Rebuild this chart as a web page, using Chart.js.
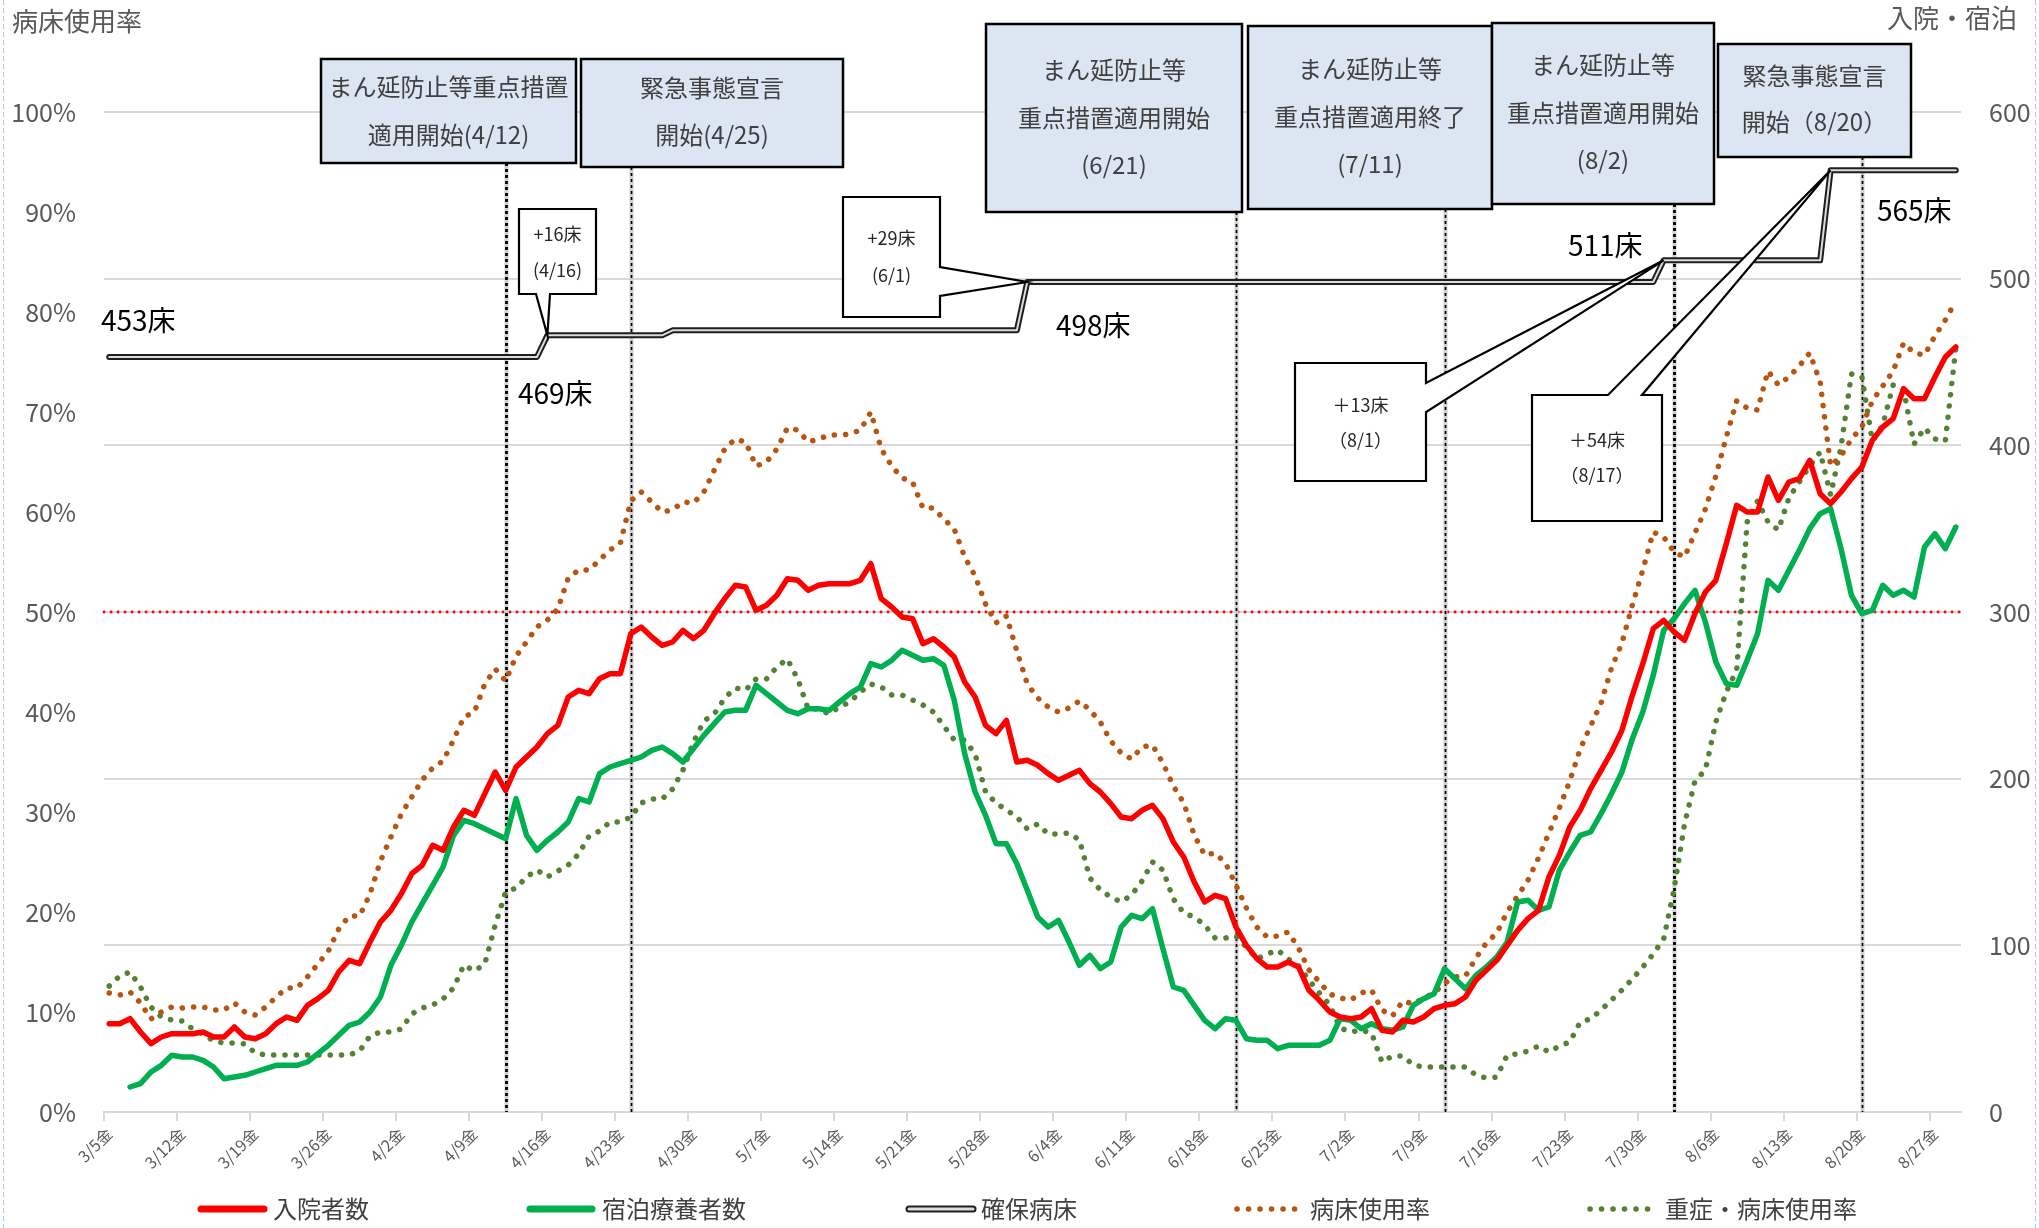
<!DOCTYPE html>
<html><head><meta charset="utf-8">
<script src="https://cdn.jsdelivr.net/npm/chart.js@4/dist/chart.umd.min.js"></script>
<style>html,body{margin:0;padding:0;background:#fff;}#wrap{position:relative;width:2039px;height:1228px;}canvas{display:block;}</style>
</head><body><div id="wrap"><canvas id="c" width="2039" height="1228"></canvas></div>
<script>
// ---------- DATA ----------
const startDate = [2021, 3, 5];   // first category (3/5 金)
const dayCount = 178;             // 3/5 .. 8/29
const weekdayChars = ['日','月','火','水','木','金','土'];

// 入院者数 (right axis, persons)
const hospitalized = [
 53,53,56,48,41,45,47,47,47,48, 45,45,51,45,44,47,53,57,55,64,
 68,73,84,91,89,102,114,121,131,143, 148,160,157,171,181,178,191,204,193,207,
 213,219,227,232,249,253,251,260,263,263, 287,291,285,280,282,289,284,289,299,308,
 316,315,301,304,310,320,319,313,316,317, 317,317,319,329,308,303,297,296,281,284,
 279,273,258,249,232,227,235,210,211,208, 203,199,202,205,197,192,185,177,176,181,
 184,176,162,153,138,126,130,128,111,100, 92,87,87,90,87,73,67,60,57,56,
 57,62,49,48,55,54,57,62,64,65, 69,79,85,91,100,109,116,121,141,154,
 171,181,194,205,216,229,250,269,290,295, 288,283,299,312,319,341,364,360,360,381,
 367,378,380,391,371,365,372,380,387,403, 411,416,434,428,428,441,453,459];

// 宿泊療養者数 (right axis, persons)
const hotelCare = [
 null,null,15,17,24,28,34,33,33,31, 27,20,21,22,24,26,28,28,28,30,
 35,40,46,52,54,60,69,88,100,114, 125,136,147,166,175,173,170,167,164,188,
 166,157,163,168,174,188,186,203,207,209, 211,213,217,219,215,210,218,226,233,240,
 241,241,256,251,246,241,239,242,242,241, 246,251,255,269,267,271,277,274,271,272,
 268,247,215,192,178,161,161,149,133,117, 111,115,102,88,94,86,90,111,118,116,
 122,98,75,73,64,55,50,56,55,44, 43,43,38,40,40,40,40,43,56,55,
 50,53,50,49,51,64,68,71,86,80, 74,82,87,93,102,126,127,121,123,145,
 156,166,168,179,191,204,224,240,262,289, 296,305,313,294,270,257,256,271,287,319,
 313,325,337,350,359,362,338,310,299,301, 316,310,313,309,339,347,338,351];

// 確保病床 (right axis, beds)
const securedBeds = [
 453,453,453,453,453,453,453,453,453,453, 453,453,453,453,453,453,453,453,453,453,
 453,453,453,453,453,453,453,453,453,453, 453,453,453,453,453,453,453,453,453,453,
 453,453,466,466,466,466,466,466,466,466, 466,466,466,466,469,469,469,469,469,469,
 469,469,469,469,469,469,469,469,469,469, 469,469,469,469,469,469,469,469,469,469,
 469,469,469,469,469,469,469,469,498,498, 498,498,498,498,498,498,498,498,498,498,
 498,498,498,498,498,498,498,498,498,498, 498,498,498,498,498,498,498,498,498,498,
 498,498,498,498,498,498,498,498,498,498, 498,498,498,498,498,498,498,498,498,498,
 498,498,498,498,498,498,498,498,498,511, 511,511,511,511,511,511,511,511,511,511,
 511,511,511,511,511,565,565,565,565,565, 565,565,565,565,565,565,565,565];

// 病床使用率 (left axis, %)
const bedUseRate = [
 11.9,11.7,12.0,10.9,9.3,10.0,10.5,10.4,10.5,10.5, 10.2,10.2,10.9,10.0,9.7,10.5,11.5,12.4,12.4,13.5,
 14.8,16.1,18.3,19.6,19.6,21.8,25.1,27.5,29.8,31.5, 33.2,34.4,35.1,37.2,39.5,40.0,42.8,44.3,43.1,45.6,
 47.0,48.5,49.2,50.3,53.4,54.2,54.2,55.2,56.2,56.9, 61.1,62.0,61.0,60.0,60.2,61.0,60.9,62.0,64.2,66.3,
 67.3,67.0,64.6,65.0,66.3,68.4,68.2,67.0,67.3,67.7, 67.7,67.8,68.2,70.0,66.3,64.6,63.4,63.0,60.4,60.4,
 59.3,58.3,55.5,53.6,50.8,48.9,49.6,46.1,42.8,41.4, 40.5,40.0,40.4,41.1,40.2,39.0,37.1,35.9,35.3,36.5,
 36.7,34.9,32.6,30.9,27.7,25.7,25.9,24.9,22.7,20.4, 18.5,17.5,17.6,18.0,16.4,14.2,13.0,11.8,11.4,11.2,
 11.9,12.2,10.2,9.6,11.1,10.8,11.4,11.9,12.9,13.5, 13.6,15.4,16.9,17.9,20.0,21.6,23.2,25.4,27.9,30.4,
 33.1,36.3,38.6,40.9,44.4,46.9,50.7,54.2,58.0,57.5, 56.0,55.5,57.9,60.3,63.6,67.5,71.1,70.4,70.2,74.1,
 72.7,73.5,74.6,75.9,73.0,64.6,65.6,67.3,68.5,71.1, 72.6,74.1,76.9,75.9,75.7,77.6,79.2,81.1];

// 重症・病床使用率 (left axis, %)
const severeUseRate = [
 12.6,13.6,14.0,12.5,10.5,9.5,9.2,9.1,8.3,7.8, 7.1,6.9,6.9,6.8,5.9,5.7,5.7,5.7,5.7,5.7,
 5.7,5.7,5.7,5.7,6.1,7.6,8.0,8.0,8.3,9.8, 10.4,10.7,11.3,12.4,14.7,14.1,14.8,18.7,22.0,22.4,
 23.5,24.2,23.5,24.1,24.7,25.8,27.6,28.1,29.0,29.0, 29.5,30.9,31.3,31.3,32.3,34.2,37.0,39.1,39.8,41.4,
 42.4,42.2,43.3,43.3,44.5,45.3,43.3,40.3,40.3,39.8, 40.5,41.0,42.0,42.8,42.5,41.7,41.7,41.2,40.7,40.0,
 38.6,37.2,37.2,35.8,32.0,30.9,30.2,29.5,28.3,28.8, 27.8,27.8,27.9,27.2,23.4,22.2,21.5,21.0,21.7,23.1,
 25.0,24.2,21.3,19.9,19.5,18.7,17.4,17.4,17.6,16.5, 15.3,15.8,16.2,15.3,14.6,13.2,11.9,10.7,8.4,8.0,
 8.2,7.9,5.0,5.6,5.6,4.7,4.5,4.5,4.5,4.5, 4.5,3.7,3.4,3.5,5.7,5.8,6.1,6.6,6.0,6.6,
 7.0,9.0,9.3,10.2,11.2,12.2,13.3,14.5,15.8,17.3, 22.3,28.8,33.1,34.2,39.0,42.0,44.2,59.0,61.1,59.0,
 58.2,61.4,63.0,64.6,66.0,61.7,66.5,73.8,73.5,67.1, 68.7,72.7,72.2,66.8,68.4,67.3,67.1,76.4];

const leftTicks = {min: 0, max: 100, step: 10};   // 病床使用率 %
const rightTicks = {min: 0, max: 600, step: 100}; // 入院・宿泊
const thresholdPct = 50;

// event markers (vertical lines) and their notes
const eventDates = ['4/12','4/24','6/21','7/11','8/2','8/20'];
const eventNotes = [
 ['まん延防止等重点措置','適用開始(4/12)'],
 ['緊急事態宣言','開始(4/25)'],
 ['まん延防止等','重点措置適用開始','(6/21)'],
 ['まん延防止等','重点措置適用終了','(7/11)'],
 ['まん延防止等','重点措置適用開始','(8/2)'],
 ['緊急事態宣言','開始（8/20）']
];
// bed increase callouts
const bedChangeDates = ['4/16','6/1','8/1','8/17'];
const bedChangeNotes = [['+16床','(4/16)'],['+29床','(6/1)'],['＋13床','（8/1）'],['＋54床','（8/17）']];
const bedLevelLabels = ['453床','469床','498床','511床','565床'];

const seriesNames = ['入院者数','宿泊療養者数','確保病床','病床使用率','重症・病床使用率'];

// ---------- categories ----------
const dates = [], labels = [];
for (let i = 0; i < dayCount; i++) {
  const d = new Date(startDate[0], startDate[1] - 1, startDate[2] + i);
  dates.push((d.getMonth() + 1) + '/' + d.getDate());
  labels.push((d.getMonth() + 1) + '/' + d.getDate() + weekdayChars[d.getDay()]);
}

// ---------- styles / layout ----------
const FONT = '"Noto Sans CJK JP", "Noto Sans", sans-serif';
const C_RED = '#ff0000', C_GREEN = '#00b050', C_BROWN = '#b85510', C_DGREEN = '#548235';
const C_AXIS = '#595959', C_GRID = '#d9d9d9';
const BED_OUT = '#1e1e1e', BED_IN = '#dcdcdc';
const DOT_DASH = [0.1, 11.2];

const boxLayout = [
 {x:321, y:59, w:255, h:104, ly:[87,135]},
 {x:581, y:59, w:262, h:108, ly:[88,135]},
 {x:986, y:24, w:256, h:188, ly:[70,118,165]},
 {x:1248, y:26, w:244, h:183, ly:[69,117,164]},
 {x:1492, y:23, w:222, h:181, ly:[65,113,160]},
 {x:1718, y:44, w:193, h:113, ly:[76,122]}
];
const eventBold = [true,false,false,false,true,false];
const calloutLayout = [
 {x:519, y:209, w:77, h:85, side:'bottom', a:536, b:550, ly:[234,270]},
 {x:843, y:197, w:97, h:120, side:'right', a:267, b:296, ly:[238,275]},
 {x:1295, y:363, w:131, h:118, side:'right', a:383, b:412, ly:[405,440]},
 {x:1532, y:395, w:130, h:126, side:'top', a:1608, b:1642, ly:[440,475]}
];
const bedLabelPos = [[101,320],[518,393],[1056,325],[1568,245],[1877,210]];
const legendLayout = {y:1209, items:[[198,267,273],[527,595,602],[906,976,981],[1234,1304,1310],[1587,1657,1665]]};

function strokeLine(ctx, x1, y1, x2, y2) { ctx.beginPath(); ctx.moveTo(x1, y1); ctx.lineTo(x2, y2); ctx.stroke(); }

const overlay = {
  id: 'overlay',
  beforeDatasetsDraw(chart) {
    const {ctx, chartArea: a, scales} = chart;
    ctx.save();
    // 50% threshold line
    const y50 = scales.yL.getPixelForValue(thresholdPct);
    ctx.strokeStyle = C_RED; ctx.lineWidth = 2.8; ctx.lineCap = 'round'; ctx.setLineDash([0.1, 6.9]);
    strokeLine(ctx, a.left, y50, a.right, y50);
    // event lines
    eventDates.forEach((d, i) => {
      const px = Math.round(scales.x.getPixelForValue(dates.indexOf(d))) + 0.5;
      const top = boxLayout[i].y + boxLayout[i].h;
      ctx.lineCap = 'butt';
      ctx.setLineDash([]); ctx.strokeStyle = '#cfcfcf'; ctx.lineWidth = 4;
      strokeLine(ctx, px, top, px, a.bottom);
      ctx.setLineDash([3, 3]); ctx.strokeStyle = '#000'; ctx.lineWidth = eventBold[i] ? 2.8 : 1.7;
      strokeLine(ctx, px, top, px, a.bottom);
    });
    ctx.restore();
  },
  afterDatasetsDraw(chart) {
    const {ctx, scales} = chart;
    ctx.save();
    ctx.setLineDash([]);
    ctx.textBaseline = 'middle';
    // note boxes
    boxLayout.forEach((b, i) => {
      ctx.fillStyle = '#dce6f2'; ctx.fillRect(b.x, b.y, b.w, b.h);
      ctx.strokeStyle = '#000'; ctx.lineWidth = 2.5; ctx.strokeRect(b.x, b.y, b.w, b.h);
      ctx.fillStyle = '#404040'; ctx.font = '24px ' + FONT; ctx.textAlign = 'center';
      eventNotes[i].forEach((t, j) => ctx.fillText(t, b.x + b.w / 2, b.ly[j]));
    });
    // callouts
    bedChangeDates.forEach((d, i) => {
      const idx = dates.indexOf(d);
      const tx = scales.x.getPixelForValue(idx), ty = scales.yR.getPixelForValue(securedBeds[idx]);
      const c = calloutLayout[i];
      const L = c.x, R = c.x + c.w, T = c.y, B = c.y + c.h;
      let pts;
      if (c.side === 'bottom') pts = [[L,T],[R,T],[R,B],[c.b,B],[tx,ty],[c.a,B],[L,B]];
      else if (c.side === 'right') pts = [[L,T],[R,T],[R,c.a],[tx,ty],[R,c.b],[R,B],[L,B]];
      else pts = [[L,T],[c.a,T],[tx,ty],[c.b,T],[R,T],[R,B],[L,B]];
      ctx.beginPath(); ctx.moveTo(pts[0][0], pts[0][1]);
      for (let k = 1; k < pts.length; k++) ctx.lineTo(pts[k][0], pts[k][1]);
      ctx.closePath();
      ctx.fillStyle = '#fff'; ctx.fill();
      ctx.strokeStyle = '#000'; ctx.lineWidth = 2.2; ctx.lineJoin = 'miter'; ctx.stroke();
      ctx.fillStyle = '#262626'; ctx.font = '18px ' + FONT; ctx.textAlign = 'center';
      bedChangeNotes[i].forEach((t, j) => ctx.fillText(t, L + c.w / 2, c.ly[j]));
    });
    // bed level labels
    ctx.fillStyle = '#000'; ctx.font = '28px ' + FONT; ctx.textAlign = 'left';
    bedLevelLabels.forEach((t, i) => ctx.fillText(t, bedLabelPos[i][0], bedLabelPos[i][1]));
    // axis titles
    ctx.fillStyle = C_AXIS; ctx.font = '26px ' + FONT;
    ctx.textAlign = 'left'; ctx.fillText('病床使用率', 12, 21);
    ctx.textAlign = 'right'; ctx.fillText('入院・宿泊', 2017, 18);
    // legend
    const ly = legendLayout.y;
    legendLayout.items.forEach((it, i) => {
      const [x1, x2, tx] = it;
      ctx.lineCap = 'round'; ctx.setLineDash([]);
      if (i === 0 || i === 1) {
        ctx.strokeStyle = i === 0 ? C_RED : C_GREEN; ctx.lineWidth = 7; strokeLine(ctx, x1 + 3, ly, x2 - 3, ly);
      } else if (i === 2) {
        ctx.strokeStyle = BED_OUT; ctx.lineWidth = 7; strokeLine(ctx, x1 + 3, ly, x2 - 3, ly);
        ctx.strokeStyle = BED_IN; ctx.lineWidth = 3; strokeLine(ctx, x1 + 3, ly, x2 - 3, ly);
      } else {
        ctx.strokeStyle = i === 3 ? C_BROWN : C_DGREEN; ctx.lineWidth = 5.5; ctx.setLineDash([0.1, 11.4]);
        strokeLine(ctx, x1 + 3, ly, x2, ly);
      }
      ctx.setLineDash([]);
      ctx.fillStyle = '#404040'; ctx.font = '24px ' + FONT; ctx.textAlign = 'left';
      ctx.fillText(seriesNames[i], tx, ly);
    });
    // page frame marks
    ctx.strokeStyle = '#a9c8e8'; ctx.lineWidth = 1; ctx.setLineDash([5, 3]); ctx.lineCap = 'butt';
    strokeLine(ctx, 3.5, 0, 3.5, 1228); strokeLine(ctx, 2035.5, 0, 2035.5, 1228);
    ctx.restore();
  }
};

const solid = (data, color) => ({data, borderColor: color, borderWidth: 5.5, borderCapStyle: 'round', borderJoinStyle: 'round', yAxisID: 'yR', pointRadius: 0, spanGaps: false});
const dotted = (data, color) => ({data, borderColor: color, borderWidth: 5.5, borderDash: DOT_DASH, borderCapStyle: 'round', borderJoinStyle: 'round', yAxisID: 'yL', pointRadius: 0});

new Chart(document.getElementById('c').getContext('2d'), {
  type: 'line',
  data: {
    labels,
    datasets: [
      {label: seriesNames[2] + '_in', data: securedBeds, borderColor: BED_IN, borderWidth: 2, borderCapStyle: 'round', borderJoinStyle: 'round', yAxisID: 'yR', pointRadius: 0},
      {label: seriesNames[2], data: securedBeds, borderColor: BED_OUT, borderWidth: 6, borderCapStyle: 'round', borderJoinStyle: 'round', yAxisID: 'yR', pointRadius: 0},
      Object.assign({label: seriesNames[0]}, solid(hospitalized, C_RED)),
      Object.assign({label: seriesNames[1]}, solid(hotelCare, C_GREEN)),
      Object.assign({label: seriesNames[3]}, dotted(bedUseRate, C_BROWN)),
      Object.assign({label: seriesNames[4]}, dotted(severeUseRate, C_DGREEN))
    ]
  },
  options: {
    responsive: false, animation: false, devicePixelRatio: 1,
    layout: {padding: {top: 112, left: 0, right: 0, bottom: 0}},
    elements: {line: {tension: 0}, point: {radius: 0}},
    plugins: {legend: {display: false}, tooltip: {enabled: false}, title: {display: false}},
    scales: {
      x: {
        type: 'category', offset: true,
        grid: {offset: true, drawOnChartArea: false, tickLength: 9, lineWidth: 2,
               color: c => (c.index % 7 === 0 ? C_GRID : 'rgba(0,0,0,0)')},
        border: {display: true, color: C_GRID, width: 2},
        ticks: {autoSkip: false, maxRotation: 45, minRotation: 45, padding: 3, color: C_AXIS,
                font: {size: 16, family: FONT},
                callback: (v, i) => (i % 7 === 0 ? labels[i] : '')},
        afterFit: s => { s.height = 116; }
      },
      yL: {
        position: 'left', min: leftTicks.min, max: leftTicks.max,
        ticks: {stepSize: leftTicks.step, padding: 28, color: C_AXIS, font: {size: 25, family: FONT}, callback: v => v + '%'},
        grid: {display: false, drawTicks: false}, border: {display: false},
        afterFit: s => { s.width = 104; }
      },
      yR: {
        position: 'right', min: rightTicks.min, max: rightTicks.max,
        ticks: {stepSize: rightTicks.step, padding: 28, color: C_AXIS, font: {size: 25, family: FONT}},
        grid: {color: C_GRID, lineWidth: 2, drawTicks: false}, border: {display: false},
        afterFit: s => { s.width = 78; }
      }
    }
  },
  plugins: [overlay]
});
</script></body></html>
